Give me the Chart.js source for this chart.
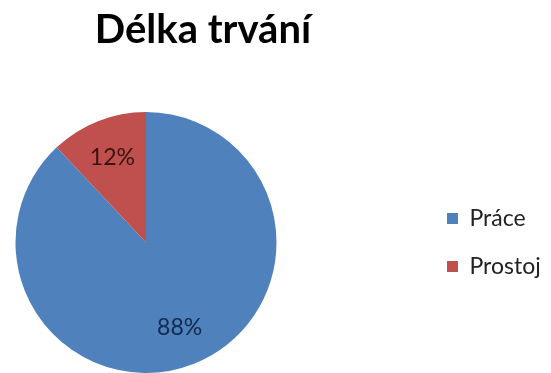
<!DOCTYPE html>
<html>
<head>
<meta charset="utf-8">
<script src="https://cdn.jsdelivr.net/npm/chart.js@4/dist/chart.umd.min.js"></script>
<style>
	html, body { margin: 0; padding: 0; background: #fff; }
	#chart { display: block; }
</style>
</head>
<body>
<canvas id="chart" width="551" height="373"></canvas>
<script>
const categories = ['Práce', 'Prostoj'];
const shares = [88, 12];
const sliceColors = ['#4F81BD', '#C0504D'];
const valueColors = ['#142a4c', '#3a1212'];
const chartTitle = 'Délka trvání';

// moves title and legend to where the original has them
const placement = {
	id: 'placement',
	afterLayout(chart) {
		let t = chart.titleBlock;
		let half = (t.right - t.left) / 2;
		t.left = 203 - half;
		t.right = 203 + half;

		let lg = chart.legend;
		lg.left = 422;
		lg.right = 551;
		lg.top = 182;
		lg.bottom = 373;
	},
};

// percent labels inside slices
const sliceLabels = {
	id: 'sliceLabels',
	afterDatasetsDraw(chart) {
		let ctx = chart.ctx;
		let meta = chart.getDatasetMeta(0);
		let total = shares.reduce((a, b) => a + b, 0);
		ctx.save();
		ctx.font = '23px Lato';
		ctx.textAlign = 'center';
		ctx.textBaseline = 'middle';
		meta.data.forEach((arc, i) => {
			let p = arc.getProps(['x', 'y', 'startAngle', 'endAngle', 'outerRadius'], true);
			let mid = (p.startAngle + p.endAngle) / 2;
			let r = p.outerRadius * 0.7;
			ctx.fillStyle = valueColors[i];
			ctx.fillText(Math.round(shares[i] / total * 100) + '%', p.x + Math.cos(mid) * r, p.y + Math.sin(mid) * r);
		});
		ctx.restore();
	},
};

new Chart(document.getElementById('chart'), {
	type: 'pie',
	data: {
		labels: categories,
		datasets: [
			{
				data: shares,
				backgroundColor: sliceColors,
				borderWidth: 0,
			},
		],
	},
	options: {
		responsive: false,
		animation: false,
		layout: {
			padding: { left: 15, right: 274, top: 0, bottom: 0 },
		},
		plugins: {
			title: {
				display: true,
				text: chartTitle,
				color: '#000',
				font: { family: 'Lato', size: 40, weight: 'bold' },
				padding: { top: 6, bottom: 58 },
			},
			legend: {
				position: 'chartArea',
				align: 'start',
				labels: {
					color: '#222',
					font: { family: 'Lato', size: 23 },
					boxWidth: 11,
					boxHeight: 11,
					padding: 25,
				},
			},
			tooltip: { enabled: false },
		},
	},
	plugins: [placement, sliceLabels],
});
</script>
</body>
</html>
